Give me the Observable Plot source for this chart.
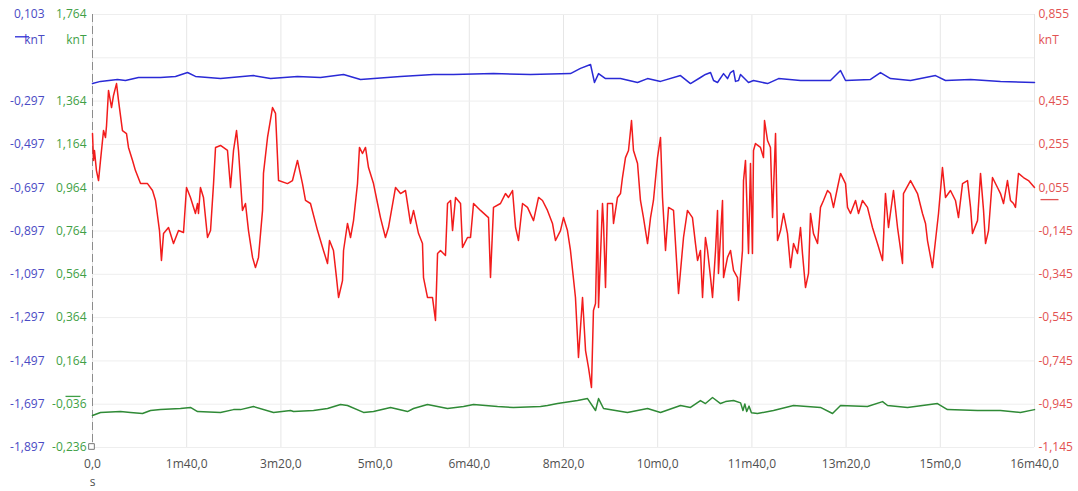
<!DOCTYPE html>
<html>
<head>
<meta charset="utf-8">
<script src="https://cdn.jsdelivr.net/npm/d3@7"></script>
<script src="https://cdn.jsdelivr.net/npm/@observablehq/plot@0.6"></script>
<style>
  html, body { margin: 0; padding: 0; background: #fff; }
</style>
</head>
<body>
<div id="chart"></div>
<script>
// Three channels sharing one time axis (seconds); each has its own knT scale.
const blueRange = [-1.897, 0.103];
const greenRange = [-0.236, 1.764];
const redRange = [-1.145, 0.855];

// Labelled ticks on each value axis (the second level is left for the unit label)
const blueTicks = [0.103, -0.297, -0.497, -0.697, -0.897, -1.097, -1.297, -1.497, -1.697, -1.897];
const greenTicks = [1.764, 1.364, 1.164, 0.964, 0.764, 0.564, 0.364, 0.164, -0.036, -0.236];
const redTicks = [0.855, 0.455, 0.255, 0.055, -0.145, -0.345, -0.545, -0.745, -0.945, -1.145];
const gridLevels = [0.103, -0.097, -0.297, -0.497, -0.697, -0.897, -1.097, -1.297, -1.497, -1.697, -1.897];
const timeTicks = [0, 100, 200, 300, 400, 500, 600, 700, 800, 900, 1000];

// [time (s), value (knT)]
const redSeries = [
  [0,0.305],[1.1,0.181],[2.1,0.227],[4.2,0.134],[6.4,0.088],[8.5,0.181],[11.7,0.319],[13.8,0.287],[14.9,0.342],[17.0,0.504],
  [20.2,0.425],[22.3,0.481],[25.5,0.536],[27.6,0.458],[31.8,0.319],[36.1,0.305],[38.2,0.241],[42.5,0.181],[45.6,0.134],[51.0,0.074],
  [58.4,0.074],[63.7,0.042],[66.9,-0.004],[71.1,-0.143],[73.2,-0.281],[75.4,-0.157],[80.7,-0.129],[86.0,-0.203],[91.3,-0.143],[96.6,-0.152],
  [99.8,0.056],[104.0,0.010],[109.3,-0.064],[111.5,-0.018],[112.5,-0.064],[114.6,0.056],[117.8,0.010],[122.1,-0.175],[125.3,-0.143],[128.5,0.074],
  [130.6,0.241],[135.9,0.250],[143.3,0.227],[146.5,0.056],[149.7,0.227],[152.9,0.319],[155.0,0.227],[159.2,-0.050],[162.4,-0.018],[165.6,-0.143],
  [169.9,-0.267],[173.0,-0.314],[176.2,-0.267],[180.5,-0.050],[181.5,0.121],[185.8,0.287],[191.1,0.425],[194.3,0.398],[197.5,0.088],[207.0,0.074],
  [212.3,0.088],[217.6,0.181],[222.9,0.074],[226.1,-0.004],[231.4,-0.018],[238.9,-0.143],[245.2,-0.235],[249.5,-0.295],[251.6,-0.189],[255.8,-0.235],
  [259.0,-0.360],[261.2,-0.452],[265.4,-0.374],[266.5,-0.235],[270.7,-0.110],[273.9,-0.175],[277.1,-0.097],[281.3,0.074],[283.4,0.241],[286.6,0.213],
  [289.8,0.241],[293.0,0.148],[298.3,0.074],[302.6,-0.018],[305.7,-0.083],[311.0,-0.175],[314.2,-0.129],[321.7,0.056],[327.0,0.028],[332.3,0.042],
  [337.6,-0.110],[340.8,-0.050],[346.1,-0.157],[350.3,-0.203],[351.4,-0.360],[355.6,-0.452],[360.9,-0.452],[364.1,-0.558],[366.3,-0.249],[369.4,-0.235],
  [374.7,-0.258],[376.9,-0.018],[380.1,-0.004],[382.2,-0.143],[385.4,0.010],[390.7,-0.018],[392.8,-0.221],[398.1,-0.175],[401.3,-0.175],[404.5,-0.018],
  [411.9,-0.050],[420.4,-0.083],[422.5,-0.360],[425.7,-0.036],[433.1,-0.018],[438.4,0.028],[441.6,0.010],[445.9,0.042],[449.1,-0.129],[452.2,-0.189],
  [456.5,-0.018],[461.8,-0.036],[468.2,-0.097],[473.5,0.010],[477.7,-0.004],[483.0,-0.050],[488.3,-0.110],[491.5,-0.189],[496.8,-0.143],[500.0,-0.083],
  [504.2,-0.143],[507.4,-0.235],[512.7,-0.452],[515.9,-0.729],[520.2,-0.452],[523.4,-0.697],[526.5,-0.775],[529.7,-0.868],[531.8,-0.512],[534.0,-0.480],
  [536.1,-0.050],[537.2,-0.498],[541.4,-0.018],[542.5,-0.110],[544.6,-0.406],[546.7,-0.018],[552.0,-0.018],[553.1,-0.110],[557.3,0.010],[560.5,0.028],
  [562.6,0.102],[565.8,0.194],[569.0,0.227],[572.2,0.365],[574.3,0.227],[578.6,0.167],[581.7,-0.004],[584.9,-0.083],[589.2,-0.203],[592.4,-0.083],
  [595.5,-0.004],[599.8,0.194],[603.0,0.287],[605.1,0.010],[608.3,-0.235],[611.5,-0.036],[616.8,-0.050],[622.1,-0.434],[627.4,-0.175],[631.6,-0.050],
  [636.9,-0.083],[640.1,-0.203],[642.3,-0.281],[645.4,-0.235],[647.6,-0.452],[650.7,-0.175],[652.9,-0.235],[656.1,-0.360],[658.2,-0.452],[661.4,-0.235],
  [663.5,-0.050],[664.5,-0.341],[668.8,-0.004],[669.9,-0.360],[674.1,-0.267],[677.3,-0.235],[680.5,-0.327],[684.7,-0.360],[685.8,-0.466],[690.0,-0.235],
  [691.1,0.088],[693.2,0.181],[696.4,-0.249],[698.5,0.167],[700.6,-0.249],[701.7,0.227],[703.8,0.259],[709.1,0.241],[712.3,0.194],[713.4,0.365],
  [716.6,0.273],[719.7,0.241],[721.9,-0.083],[725.1,0.305],[727.2,-0.189],[730.4,-0.143],[733.6,-0.064],[737.8,-0.157],[741.0,-0.314],[744.2,-0.203],
  [748.4,-0.249],[751.6,-0.129],[753.7,-0.249],[756.9,-0.406],[760.1,-0.341],[762.2,-0.064],[765.4,-0.157],[769.7,-0.203],[772.8,-0.036],[776.0,-0.004],
  [780.3,0.042],[783.4,0.028],[786.6,-0.036],[790.9,0.056],[794.1,0.121],[799.4,0.074],[801.5,-0.036],[804.7,-0.064],[810.0,-0.004],[813.2,-0.064],
  [817.4,-0.004],[822.7,-0.036],[828.0,-0.129],[833.3,-0.203],[838.7,-0.281],[841.8,0.028],[845.0,-0.129],[850.3,0.042],[854.6,-0.129],[859.9,-0.295],
  [860.9,0.028],[868.4,0.088],[875.8,0.028],[881.1,-0.064],[884.3,-0.110],[886.4,-0.189],[891.7,-0.314],[894.9,-0.189],[898.1,-0.064],[902.3,0.148],
  [905.5,0.010],[910.8,0.042],[916.1,-0.004],[919.3,-0.083],[923.6,0.074],[928.9,0.088],[932.1,-0.036],[934.2,-0.157],[939.5,-0.097],[942.7,0.121],
  [945.9,-0.050],[948.0,-0.203],[951.2,-0.143],[955.4,0.102],[960.7,0.056],[963.9,0.028],[967.1,-0.018],[971.3,0.088],[974.5,-0.004],[977.7,-0.018],
  [979.8,-0.036],[983.0,0.121],[988.3,0.102],[993.6,0.088],[1000,0.056]
];

const blueSeries = [
  [0,-0.216],[8.5,-0.206],[26.5,-0.197],[35.0,-0.202],[48.8,-0.188],[72.2,-0.188],[88.1,-0.183],[100.9,-0.165],[109.3,-0.183],[135.9,-0.193],
  [170.9,-0.179],[189.0,-0.193],[217.6,-0.183],[242.0,-0.188],[266.5,-0.174],[284.5,-0.197],[327.0,-0.183],[362.0,-0.174],[383.2,-0.174],[425.7,-0.170],
  [465.0,-0.174],[507.4,-0.170],[518.0,-0.146],[528.7,-0.128],[532.9,-0.211],[537.2,-0.170],[544.6,-0.193],[560.5,-0.193],[578.6,-0.211],[589.2,-0.193],
  [603.0,-0.206],[624.2,-0.179],[634.8,-0.216],[645.4,-0.188],[650.7,-0.174],[656.1,-0.165],[659.3,-0.202],[663.5,-0.211],[669.9,-0.170],[674.1,-0.193],
  [677.3,-0.165],[680.5,-0.156],[682.6,-0.206],[685.8,-0.202],[687.9,-0.174],[691.1,-0.188],[696.4,-0.211],[701.7,-0.202],[716.6,-0.216],[728.3,-0.193],
  [751.6,-0.202],[783.4,-0.202],[794.1,-0.156],[799.4,-0.202],[825.9,-0.197],[836.5,-0.165],[847.1,-0.193],[868.4,-0.202],[894.9,-0.179],[905.5,-0.202],
  [932.1,-0.197],[963.9,-0.206],[1000,-0.211]
];

const greenSeries = [
  [0,-0.088],[8.5,-0.074],[29.7,-0.070],[40.3,-0.074],[53.1,-0.079],[61.6,-0.065],[72.2,-0.061],[93.4,-0.056],[104.0,-0.051],[111.5,-0.070],
  [135.9,-0.074],[149.7,-0.061],[157.1,-0.061],[170.9,-0.047],[192.2,-0.074],[210.2,-0.065],[213.4,-0.070],[234.6,-0.065],[249.5,-0.056],[263.3,-0.037],
  [270.7,-0.042],[287.7,-0.074],[298.3,-0.070],[316.4,-0.051],[334.4,-0.070],[340.8,-0.056],[355.6,-0.037],[376.9,-0.056],[393.9,-0.047],[404.5,-0.037],
  [430.0,-0.047],[446.9,-0.051],[475.6,-0.047],[483.0,-0.042],[493.6,-0.033],[514.9,-0.019],[525.5,-0.010],[534.0,-0.065],[537.2,-0.010],[542.5,-0.056],
  [567.9,-0.074],[589.2,-0.056],[603.0,-0.074],[624.2,-0.042],[634.8,-0.051],[645.4,-0.019],[650.7,-0.033],[658.2,-0.005],[666.7,-0.033],[672.0,-0.024],
  [680.5,-0.019],[688.0,-0.030],[690.5,-0.065],[692.5,-0.035],[694.5,-0.070],[697.0,-0.045],[699.5,-0.075],[705.9,-0.079],[722.9,-0.065],[744.2,-0.042],
  [772.8,-0.051],[785.6,-0.079],[794.1,-0.042],[822.7,-0.047],[838.7,-0.024],[844.0,-0.042],[865.2,-0.051],[897.0,-0.033],[907.6,-0.061],[939.5,-0.065],
  [963.9,-0.065],[985.1,-0.074],[1000,-0.061]
];

// Colours
const BLUE = "#2a2ad6", BLUE_TXT = "#4a4ac4";
const GREEN = "#2f8a36", GREEN_TXT = "#3f9f46";
const RED = "#f21c1c", RED_TXT = "#e25252";
const GREY_TXT = "#505050";

// Each value axis is mapped onto the shared 0..1 vertical scale
const toUnit = r => v => (v - r[0]) / (r[1] - r[0]);
const fromUnit = r => u => r[0] + u * (r[1] - r[0]);
const yBlue = toUnit(blueRange), yGreen = toUnit(greenRange), yRed = toUnit(redRange);
const fmt = v => (Math.abs(v) < 5e-4 ? 0 : v).toFixed(3).replace(".", ",");
const fmtTime = t => {
  if (t === 0) return "0,0";
  const m = Math.floor(t / 60), s = Math.round(t - m * 60);
  return `${m}m${s},0`;
};

// Short horizontal bar used to flag the zero level of each axis
const hbar = w => ({ draw(ctx) { ctx.moveTo(-w, 0); ctx.lineTo(w, 0); } });

const chart = Plot.plot({
  width: 1078,
  height: 491,
  marginLeft: 92,
  marginRight: 44,
  marginTop: 14,
  marginBottom: 44,
  style: { fontFamily: "'Open Sans', sans-serif", fontSize: "12px", background: "#fff", overflow: "visible" },
  x: { domain: [0, 1000] },
  y: { domain: [0, 1] },
  marks: [
    Plot.gridX(timeTicks, { stroke: "#e6e6e6", strokeOpacity: 1 }),
    Plot.gridY(gridLevels.map(yBlue), { stroke: "#eeeeee", strokeOpacity: 1 }),
    Plot.ruleX([0], { stroke: "#8c8c8c", strokeDasharray: "8,4" }),

    Plot.line(redSeries, { x: d => d[0], y: d => yRed(d[1]), stroke: RED, strokeWidth: 1.5 }),
    Plot.line(blueSeries, { x: d => d[0], y: d => yBlue(d[1]), stroke: BLUE, strokeWidth: 1.5 }),
    Plot.line(greenSeries, { x: d => d[0], y: d => yGreen(d[1]), stroke: GREEN, strokeWidth: 1.5 }),

    Plot.axisX(timeTicks, { tickSize: 0, tickPadding: 12, tickFormat: fmtTime, color: GREY_TXT, label: null }),
    Plot.axisY(blueTicks.map(yBlue), { anchor: "left", tickSize: 0, tickPadding: 48, tickFormat: u => fmt(fromUnit(blueRange)(u)), color: BLUE_TXT, label: null }),
    Plot.axisY(greenTicks.map(yGreen), { anchor: "left", tickSize: 0, tickPadding: 6, tickFormat: u => fmt(fromUnit(greenRange)(u)), color: GREEN_TXT, label: null }),
    Plot.axisY(redTicks.map(yRed), { anchor: "right", tickSize: 0, tickPadding: 4, tickFormat: u => fmt(fromUnit(redRange)(u)), color: RED_TXT, label: null }),

    // unit labels
    Plot.text(["knT"], { frameAnchor: "top-left", dx: -48, dy: 21, textAnchor: "end", fill: BLUE_TXT }),
    Plot.text(["knT"], { frameAnchor: "top-left", dx: -6, dy: 21, textAnchor: "end", fill: GREEN_TXT }),
    Plot.text(["knT"], { frameAnchor: "top-right", dx: 4, dy: 21, textAnchor: "start", fill: RED_TXT }),
    Plot.text(["s"], { frameAnchor: "bottom-left", dy: 38, textAnchor: "middle", fill: GREY_TXT }),

    // zero markers of each axis
    Plot.dot([0], { x: 0, y: yBlue(0), dx: -70.5, symbol: hbar(7), stroke: BLUE, strokeWidth: 1.3 }),
    Plot.dot([0], { x: 0, y: yGreen(0), dx: -19.5, symbol: hbar(7.5), stroke: GREEN_TXT, strokeWidth: 1.3 }),
    Plot.dot([0], { x: 1000, y: yRed(0), dx: 15, symbol: hbar(9), stroke: RED_TXT, strokeWidth: 1.3 }),

    // origin marker
    Plot.dot([0], { x: 0, y: 0, dx: -1, dy: -1, symbol: "square", r: 3.2, stroke: "#777", fill: "#fff", strokeWidth: 1 })
  ]
});

document.getElementById("chart").appendChild(chart);
</script>
</body>
</html>
